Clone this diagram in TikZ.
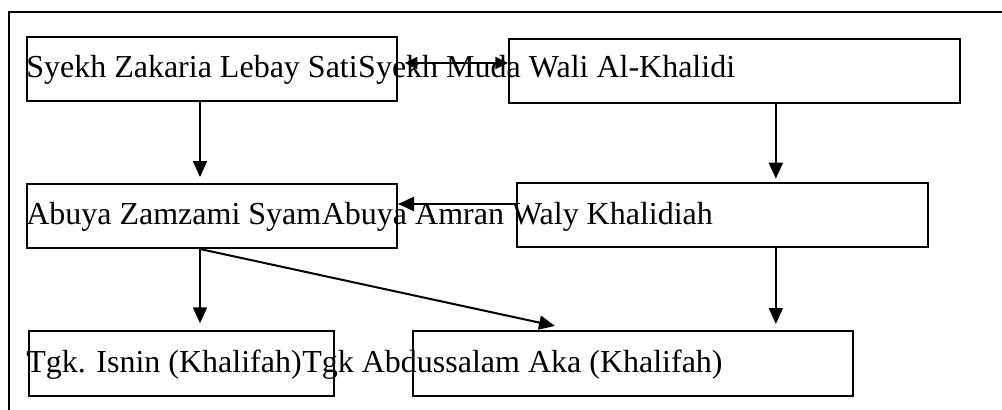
\documentclass[tikz,border=0pt]{standalone}
\usepackage{fontspec}
\setmainfont{Liberation Serif}
\usetikzlibrary{arrows.meta}

\begin{document}
\begin{tikzpicture}[
  x=0.75pt, y=-0.75pt,
  box/.style={draw, line width=1.5pt, anchor=north west, inner sep=0pt, minimum height=48pt},
  lbl/.style={anchor=base west, inner sep=0pt, font=\fontsize{24}{28}\selectfont},
  arr/.style={line width=1.5pt, -{Triangle[length=12pt, width=10.5pt]}},
  dbl/.style={line width=1.5pt, {Triangle[length=9.5pt, width=9pt]}-{Triangle[length=9.5pt, width=9pt]}}
]
\useasboundingbox (0,0) rectangle (1002,410);
% frame
\draw[line width=1.2pt] (9,410) -- (9,12) -- (1002,12);
% boxes
\node[box, minimum width=277.5pt] (zakaria) at (26,36) {};
\node[box, minimum width=338.25pt] (mudawali) at (508,38) {};
\node[box, minimum width=277.5pt] (zamzami) at (26,183) {};
\node[box, minimum width=308.25pt] (amran) at (516,182) {};
\node[box, minimum width=228.75pt, minimum height=48.75pt] (isnin) at (28,330) {};
\node[box, minimum width=330pt, minimum height=48.75pt] (abdussalam) at (412,330) {};
% texts
\node[lbl] (zakariatxt) at (26,78) {Syekh Zakaria Lebay Sati};
\node[lbl] (mudatxt) at (zakariatxt.base east) {Syekh Muda Wali Al-Khalidi};
\node[lbl] (zamzamitxt) at (26,224) {Abuya Zamzami Syam};
\node[lbl] (amrantxt) at (zamzamitxt.base east) {Abuya Amran Waly Khalidiah};
\node[lbl] (isnintxt) at (26,372) {Tgk. Isnin (Khalifah)};
\node[lbl] (abdussalamtxt) at (isnintxt.base east) {Tgk Abdussalam Aka (Khalifah)};
% connectors
\draw[dbl, shorten <=5pt] ([yshift=4.5pt]zakaria.east) -- ([yshift=4.5pt]zakaria.east -| mudawali.west);
\draw[arr, shorten >=4.5pt] ([xshift=-9pt]zakaria.south) -- ([xshift=-9pt]zakaria.south |- zamzami.north);
\draw[arr, shorten >=2.5pt] ([xshift=31pt]mudawali.south) -- ([xshift=31pt]mudawali.south |- amran.north);
\draw[arr] ([yshift=9pt]zamzami.east -| amran.west) -- ([yshift=9pt]zamzami.east);
\draw[arr, shorten >=5pt] ([xshift=-9pt]zamzami.south) -- ([xshift=-9pt]zamzami.south |- isnin.north);
\draw[arr] ([xshift=-9pt]zamzami.south) -- ([xshift=-58.5pt, yshift=3pt]abdussalam.north);
\draw[arr, shorten >=4.5pt] ([xshift=40pt]amran.south) -- ([xshift=40pt]amran.south |- abdussalam.north);
\end{tikzpicture}
\end{document}
